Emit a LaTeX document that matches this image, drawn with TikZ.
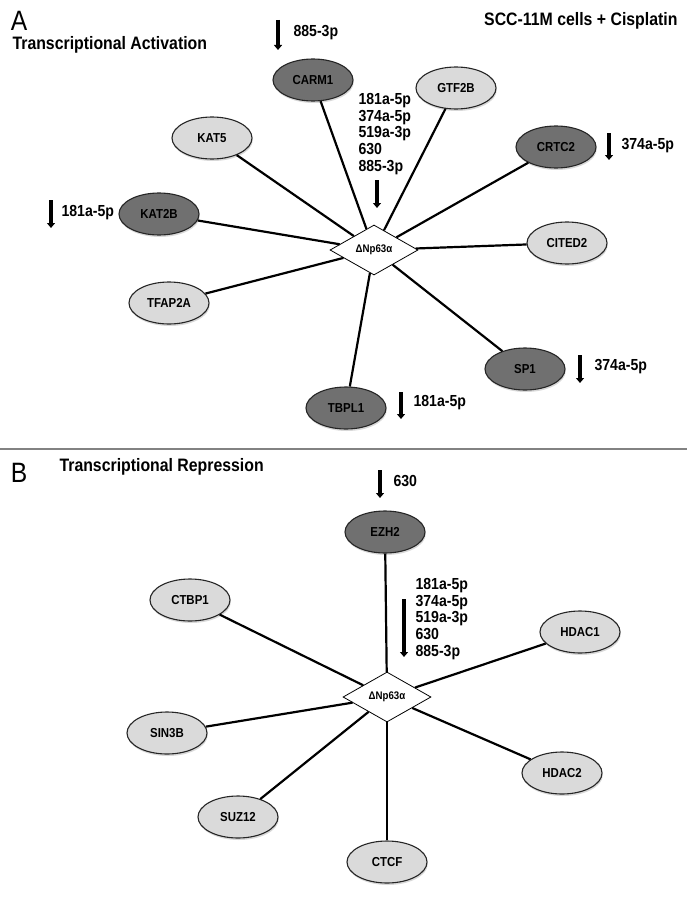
\documentclass[tikz,border=0pt]{standalone}
\usepackage{fontspec}
\newfontfamily\labfont{Liberation Sans}[FakeStretch=0.88]
\usetikzlibrary{shapes.geometric,arrows.meta,shadows}
\definecolor{geneDark}{RGB}{112,112,112}
\definecolor{geneLight}{RGB}{218,218,218}
\definecolor{sepGray}{RGB}{130,130,130}

\begin{document}
\begin{tikzpicture}[x=1pt, y=-1pt,
  gene/.style={ellipse, draw=black!85, line width=1.1pt, minimum width=80pt, minimum height=42pt,
    inner sep=0pt, font=\labfont\bfseries\fontsize{13}{13}\selectfont,
    drop shadow={shadow xshift=0.8pt, shadow yshift=-2pt, opacity=0.3}},
  darkgene/.style={gene, fill=geneDark},
  lightgene/.style={gene, fill=geneLight},
  hub/.style={diamond, draw, line width=0.8pt, fill=white, minimum width=88pt, minimum height=50pt,
    inner sep=0pt, font=\labfont\bfseries\fontsize{11}{11}\selectfont},
  link/.style={line width=2.2pt},
  mirdown/.style={line width=4pt, -{Triangle[width=8pt, length=5pt]}},
  mirlab/.style={anchor=west, align=left, font=\labfont\bfseries\fontsize{16}{16.7}\selectfont},
  title/.style={anchor=west, font=\labfont\bfseries\fontsize{18}{18}\selectfont},
  panel/.style={inner sep=0pt, font=\labfont\fontsize{28}{28}\selectfont}]
  \fill[white] (0,0) rectangle (687,899);
  \useasboundingbox (0,0) rectangle (687,899);

  % Panel A: activation
  \node[panel] (tagA) at (19,21) {A};
  \node[title] (titleA) at (9,45) {Transcriptional Activation};
  \node[title, anchor=east] (cond) at (681,21) {SCC-11M cells + Cisplatin};

  \node[hub] (hubA) at (374,250) {ΔNp63α};
  \node[darkgene] (carm) at (313,80) {CARM1};
  \node[lightgene] (gtf) at (456,88) {GTF2B};
  \node[lightgene] (kat5) at (212,138) {KAT5};
  \node[darkgene] (crtc) at (556,147) {CRTC2};
  \node[darkgene] (kat2b) at (159,214) {KAT2B};
  \node[lightgene] (cited) at (567,243) {CITED2};
  \node[lightgene] (tfap) at (169,303) {TFAP2A};
  \node[darkgene] (sp1) at (525,369) {SP1};
  \node[darkgene] (tbpl) at (346,408) {TBPL1};

  \foreach \g in {carm,gtf,kat5,crtc,kat2b,cited,tfap,sp1,tbpl}
    \draw[link] (hubA) -- (\g);

  % miRNA marks A
  \coordinate (carmA) at (278,20);  \coordinate (carmB) at (278,50);
  \coordinate (hubAa) at (377,180); \coordinate (hubAb) at (377,208);
  \coordinate (crtcA) at (609,133); \coordinate (crtcB) at (609,160);
  \coordinate (kat2bA) at (51,200); \coordinate (kat2bB) at (51,228);
  \coordinate (sp1A) at (580,355);  \coordinate (sp1B) at (580,383);
  \coordinate (tbplA) at (401,392); \coordinate (tbplB) at (401,419);
  \draw[mirdown] (carmA) -- (carmB);
  \draw[mirdown] (hubAa) -- (hubAb);
  \draw[mirdown] (crtcA) -- (crtcB);
  \draw[mirdown] (kat2bA) -- (kat2bB);
  \draw[mirdown] (sp1A) -- (sp1B);
  \draw[mirdown] (tbplA) -- (tbplB);
  \node[mirlab] (carmL) at (290,33) {885-3p};
  \node[mirlab] (hubAL) at (355,134) {181a-5p\\374a-5p\\519a-3p\\630\\885-3p};
  \node[mirlab] (crtcL) at (618,146) {374a-5p};
  \node[mirlab] (kat2bL) at (58,213) {181a-5p};
  \node[mirlab] (sp1L) at (591,367) {374a-5p};
  \node[mirlab] (tbplL) at (410,403) {181a-5p};

  % separator
  \coordinate (sepL) at (0,449); \coordinate (sepR) at (687,449);
  \draw[sepGray, line width=1.3pt] (sepL) -- (sepR);

  % Panel B: repression
  \node[panel] (tagB) at (19,473) {B};
  \node[title] (titleB) at (56,467) {Transcriptional Repression};

  \node[hub] (hubB) at (387,697) {ΔNp63α};
  \node[darkgene] (ezh) at (385,532) {EZH2};
  \node[lightgene] (ctbp) at (190,600) {CTBP1};
  \node[lightgene] (hdac1) at (580,632) {HDAC1};
  \node[lightgene] (sin3b) at (167,733) {SIN3B};
  \node[lightgene] (hdac2) at (562,773) {HDAC2};
  \node[lightgene] (suz) at (238,817) {SUZ12};
  \node[lightgene] (ctcf) at (387,862) {CTCF};

  \foreach \g in {ezh,ctbp,hdac1,sin3b,hdac2,suz,ctcf}
    \draw[link] (hubB) -- (\g);

  % miRNA marks B
  \coordinate (ezhA) at (380,470);  \coordinate (ezhB) at (380,498);
  \coordinate (hubBa) at (404,599); \coordinate (hubBb) at (404,657);
  \draw[mirdown] (ezhA) -- (ezhB);
  \draw[mirdown] (hubBa) -- (hubBb);
  \node[mirlab] (ezhL) at (390,481) {630};
  \node[mirlab] (hubBL) at (412,619) {181a-5p\\374a-5p\\519a-3p\\630\\885-3p};
\end{tikzpicture}
\end{document}
